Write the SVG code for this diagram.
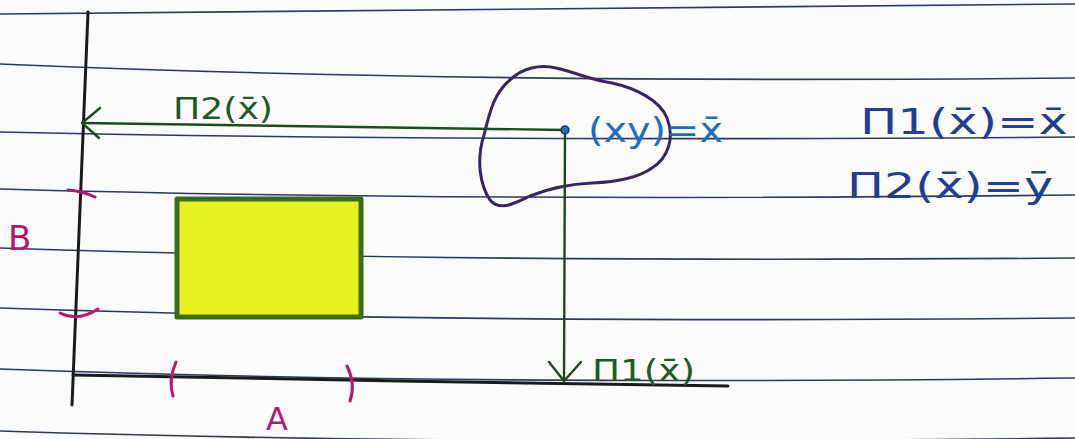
<svg xmlns="http://www.w3.org/2000/svg" width="1075" height="439" viewBox="0 0 1075 439">
<style>
.paper{fill:none;stroke:#2e3a5c;stroke-width:1.6}
.axis{fill:none;stroke:#1a1a1a;stroke-width:3;stroke-linecap:round}
.conn{fill:none;stroke:#1f4a1f;stroke-width:2.4;stroke-linecap:round;stroke-linejoin:round}
.green{font-family:"DejaVu Sans",sans-serif;fill:#1d5a25}
.blue{font-family:"DejaVu Sans",sans-serif;fill:#1f3f95}
.lblue{font-family:"DejaVu Sans",sans-serif;fill:#1e6fc0}
.mag{font-family:"DejaVu Sans",sans-serif;fill:#b01a70}
.magline{fill:none;stroke:#b01a70;stroke-width:3;stroke-linecap:round}
</style>
<rect x="0" y="0" width="1075" height="439" fill="#fbfbfb"/>
<g id="paper-lines">
<path class="paper" d="M0,14 Q540,8 1075,4"/>
<path class="paper" d="M0,64 Q460,84 1075,78"/>
<path class="paper" d="M0,132 Q460,142 1075,137"/>
<path class="paper" d="M0,189 Q460,202 1075,195"/>
<path class="paper" d="M0,248 Q460,263 1075,258"/>
<path class="paper" d="M0,308 Q460,324 1075,318"/>
<path class="paper" d="M0,369 Q460,386 1075,378"/>
<path class="paper" d="M0,431 Q460,446 1075,438"/>
</g>
<g id="axes">
<path class="axis" d="M88,12 L72,405"/>
<path class="axis" d="M73,375 L400,381 L728,386"/>
</g>
<g id="set-AxB">
<rect x="177" y="199" width="184" height="118" fill="#e9f221" stroke="#3d6b14" stroke-width="5" stroke-linejoin="round"/>
</g>
<g id="blob">
<path d="M510,80 C522,68 540,64 556,68 C575,72 590,80 612,83 C635,88 660,100 667,118 C675,138 668,158 652,168 C638,178 615,182 592,183 C570,184 550,188 530,196 C515,203 500,212 490,200 C480,185 476,160 484,135 C490,110 495,92 510,80 Z" fill="none" stroke="#3a2560" stroke-width="3"/>
</g>
<g id="labels">
<text class="green" x="173" y="119" font-size="31" textLength="100" lengthAdjust="spacingAndGlyphs">Π2(x̄)</text>
<text class="green" x="592" y="381" font-size="31" textLength="103" lengthAdjust="spacingAndGlyphs">Π1(x̄)</text>
<text class="lblue" x="588" y="142" font-size="34" textLength="135" lengthAdjust="spacingAndGlyphs">(xy)=x̄</text>
<text class="blue" x="860" y="134" font-size="36" textLength="208" lengthAdjust="spacingAndGlyphs">Π1(x̄)=x̄</text>
<text class="blue" x="847" y="198" font-size="36" textLength="206" lengthAdjust="spacingAndGlyphs">Π2(x̄)=ȳ</text>
<text class="mag" x="8" y="250" font-size="34">B</text>
<text class="mag" x="266" y="430" font-size="32">A</text>
<path class="magline" d="M68,190 Q82,191 95,197"/>
<path class="magline" d="M60,313 Q78,322 98,309"/>
<path class="magline" d="M176,362 Q168,380 173,396"/>
<path class="magline" d="M347,366 Q356,384 350,401"/>
</g>
<g id="connectors">
<path class="conn" d="M565,130 L82,123"/>
<path class="conn" d="M100,108 L82,123 L99,138"/>
<path class="conn" d="M565,130 L564,381"/>
<path class="conn" d="M549,362 L564,381 L581,362"/>
<circle cx="565" cy="130" r="4" fill="#1e6fc0" stroke="#123a70" stroke-width="1.5"/>
</g>
</svg>
